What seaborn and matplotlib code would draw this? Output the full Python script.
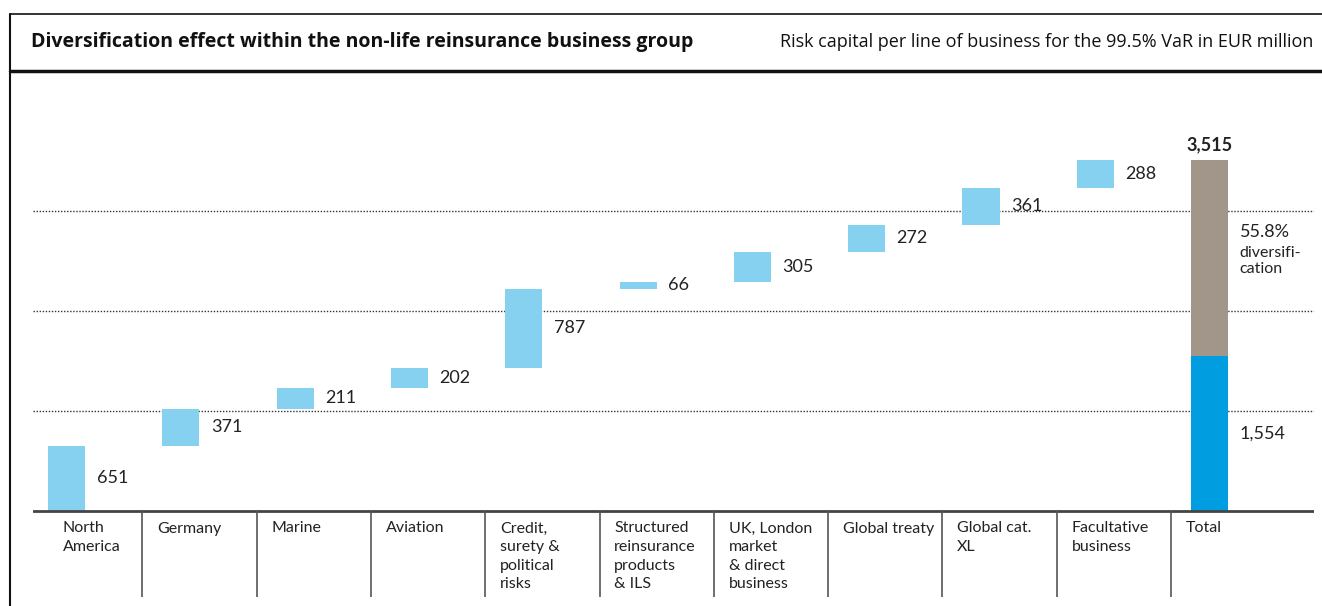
import numpy as np
import pandas as pd
import matplotlib.pyplot as plt
import seaborn as sns
from matplotlib.lines import Line2D

# data
categories = ["North\nAmerica", "Germany", "Marine", "Aviation",
              "Credit,\nsurety &\npolitical\nrisks",
              "Structured\nreinsurance\nproducts\n& ILS",
              "UK, London\nmarket\n& direct\nbusiness",
              "Global treaty", "Global cat.\nXL", "Facultative\nbusiness", "Total"]
values = [651, 371, 211, 202, 787, 66, 305, 272, 361, 288]
total_label = "3,515"
total_value = 3515
diversified = 1554
diversified_label = "1,554"
diversification_pct = "55.8%"

LIGHT_BLUE = "#86D0F0"
BLUE = "#009EE0"
GREY = "#A29589"

sns.set_theme(style="white")
plt.rcParams['font.family'] = ['Lato', 'DejaVu Sans']

W, H = 1322, 606
fig = plt.figure(figsize=(W / 100, H / 100), dpi=100)

# axes placed in pixel terms: baseline at y=511, 0.1 px per unit
ax_left, ax_right, ax_top, ax_bottom = 33, 1314, 80, 597
ax = fig.add_axes([ax_left / W, (H - ax_bottom) / H,
                   (ax_right - ax_left) / W, (ax_bottom - ax_top) / H])

cat_x0, cat_w = 28, 114.3
xlim = ((ax_left - cat_x0) / cat_w, (ax_right - cat_x0) / cat_w)
ylim = (-(ax_bottom - 511) * 10, (511 - ax_top) * 10)

bar_off, bar_w = 0.175, 0.325

# waterfall: floating bars
cum = np.cumsum([0] + values)
bottoms = cum[:-1]
df = pd.DataFrame({"x": np.arange(len(values)) + bar_off + bar_w / 2,
                   "h": values, "b": bottoms})
for i, row in df.iterrows():
    ax.bar(row["x"], row["h"], bottom=row["b"], width=bar_w,
           color=LIGHT_BLUE, linewidth=0, zorder=3)
    ax.text(i + 0.6, row["b"] + row["h"] / 2, f"{int(row['h'])}",
            ha="left", va="center", fontsize=13, color="#222222")

# total bar (stacked)
ti = len(values)
tx = ti + bar_off + bar_w / 2
sns.barplot(x=[tx], y=[total_value], native_scale=True, width=bar_w,
            color=GREY, saturation=1, linewidth=0, ax=ax, zorder=3)
sns.barplot(x=[tx], y=[diversified], native_scale=True, width=bar_w,
            color=BLUE, saturation=1, linewidth=0, ax=ax, zorder=4)
ax.set_xlim(*xlim)
ax.set_ylim(*ylim)

ax.text(tx, total_value + 60, total_label, ha="center", va="bottom",
        fontsize=13, fontweight="bold", color="#222222")
ax.text(ti + 0.6, diversified / 2, diversified_label, ha="left", va="center",
        fontsize=13, color="#222222")
ax.text(ti + 0.6, 2790, diversification_pct, ha="left", va="center",
        fontsize=13, color="#222222")
ax.text(ti + 0.6, 2500, "diversifi-\ncation", ha="left", va="center",
        fontsize=11.5, color="#222222", linespacing=1.15)

# dotted gridlines
for g in [1000, 2000, 3000]:
    ax.axhline(g, color="#333333", lw=1, ls=(0, (1, 1.2)), zorder=1)

# baseline and category separators
ax.axhline(0, color="#444444", lw=2, zorder=5)
for i in range(1, len(categories)):
    ax.plot([i, i], [-860, 0], color="#555555", lw=1.2, zorder=5)
for i, c in enumerate(categories):
    pad = 0.305 if i == 0 else 0.13
    ax.text(i + pad, -105, c, ha="left", va="top", fontsize=11.5,
            color="#222222", linespacing=1.42)

ax.set_xticks([])
ax.set_yticks([])
ax.set_xlabel("")
ax.set_ylabel("")
sns.despine(ax=ax, left=True, bottom=True)

# header frame
fig.add_artist(Line2D([10 / W, 1], [1 - 14 / H, 1 - 14 / H], color="#111111", lw=1.2))
fig.add_artist(Line2D([10 / W, 10 / W], [0, 1 - 14 / H], color="#111111", lw=1.5))
fig.add_artist(Line2D([10 / W, 1], [1 - 71 / H, 1 - 71 / H], color="#111111", lw=2.5))
fig.text(31 / W, 1 - 42 / H, "Diversification effect within the non-life reinsurance business group",
         ha="left", va="center", fontsize=14, fontweight="bold", color="#111111",
         family=["Open Sans", "DejaVu Sans"])
fig.text(1313 / W, 1 - 42 / H, "Risk capital per line of business for the 99.5% VaR in EUR million",
         ha="right", va="center", fontsize=13, color="#111111",
         family=["Open Sans", "DejaVu Sans"])

fig.savefig("out.png", dpi=100, facecolor="white")
